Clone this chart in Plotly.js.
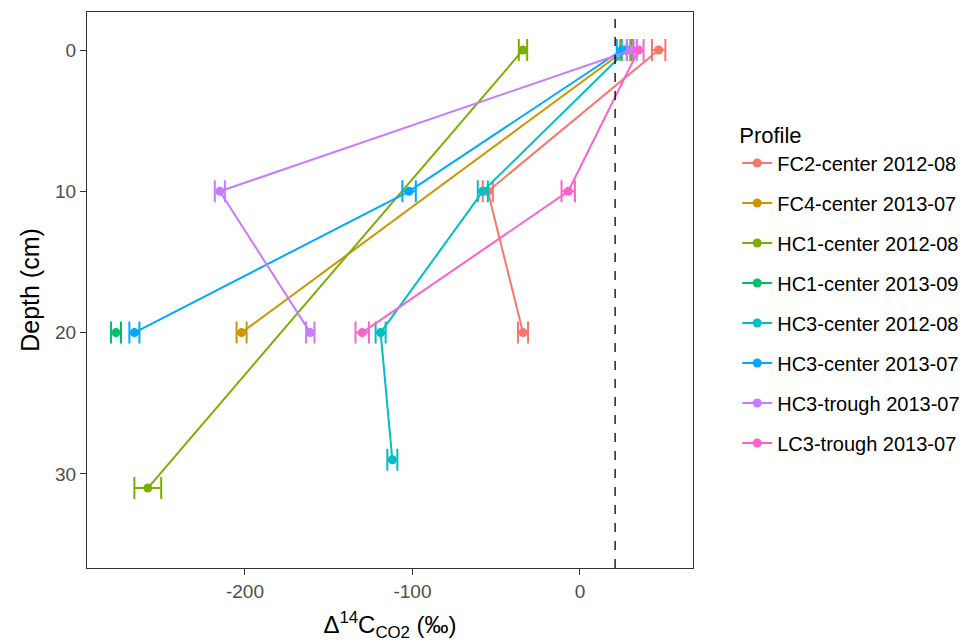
<!DOCTYPE html>
<html>
<head>
<meta charset="utf-8">
<script src="https://cdn.plot.ly/plotly-3.0.1.min.js"></script>
<style>html,body{margin:0;padding:0;background:#fff}#chart{width:967px;height:642px}</style>
</head>
<body>
<div id="chart"></div>
<script>
// Profiles (legend order)
const profiles = ["FC2-center 2012-08","FC4-center 2013-07","HC1-center 2012-08","HC1-center 2013-09","HC3-center 2012-08","HC3-center 2013-07","HC3-trough 2013-07","LC3-trough 2013-07"];
const colors = ["#F8766D","#CD9600","#7CAE00","#00BE67","#00BFC4","#00A9FF","#C77CFF","#FF61CC"];

// Depth (cm) per profile
const depthFC2 = [0, 10, 20];
const depthFC4 = [0, 20];
const depthHC1a = [0, 31];
const depthHC1b = [20];
const depthHC3a = [0, 10, 20, 29];
const depthHC3b = [0, 10, 20];
const depthHC3t = [0, 10, 20];
const depthLC3t = [0, 10, 20];

// Δ14C-CO2 (‰) per profile
const d14FC2 = [47, -55, -34];
const d14FC4 = [27, -202];
const d14HC1a = [-34, -258];
const d14HC1b = [-277];
const d14HC3a = [28, -58, -119, -112];
const d14HC3b = [25, -102, -266];
const d14HC3t = [31, -215, -161];
const d14LC3t = [35, -7, -130];

// Error (±‰)
const errFC2 = [4, 3, 3];
const errFC4 = [3, 3];
const errHC1a = [2.5, 8];
const errHC1b = [3];
const errHC3a = [3, 3, 3, 3];
const errHC3b = [3, 4, 3];
const errHC3t = [3, 3, 2.5];
const errLC3t = [3, 4, 4];

// Reference (atmospheric) value
const refValue = 21;

const depths = [depthFC2, depthFC4, depthHC1a, depthHC1b, depthHC3a, depthHC3b, depthHC3t, depthLC3t];
const values = [d14FC2, d14FC4, d14HC1a, d14HC1b, d14HC3a, d14HC3b, d14HC3t, d14LC3t];
const errs = [errFC2, errFC4, errHC1a, errHC1b, errHC3a, errHC3b, errHC3t, errLC3t];

const traces = profiles.map((name, i) => ({
  type: 'scatter',
  mode: 'lines+markers',
  name: name,
  legendgroup: 'g' + i,
  x: values[i],
  y: depths[i],
  line: {color: colors[i], width: 2},
  marker: {color: colors[i], size: 9},
  error_x: {type: 'data', array: errs[i], visible: true, color: colors[i], thickness: 2, width: 11},
  cliponaxis: false
}));

const layout = {
  width: 967, height: 642,
  margin: {l: 87, r: 274, t: 12, b: 74, autoexpand: false},
  paper_bgcolor: '#ffffff',
  plot_bgcolor: '#ffffff',
  font: {family: 'Liberation Sans, Arial, sans-serif', color: '#000'},
  xaxis: {
    range: [-294.3, 67.5],
    tickvals: [-200, -100, 0],
    ticktext: ['-200', '-100', '0'],
    showgrid: false, zeroline: false,
    showline: true, mirror: true, linecolor: '#333', linewidth: 1,
    ticks: 'outside', ticklen: 6, tickcolor: '#333', tickwidth: 1,
    tickfont: {size: 19, color: '#4d4d4d'},
    title: {text: 'Δ<sup>14</sup>C<sub>CO2</sub> (‰)', font: {size: 24, color: '#000'}, standoff: 16}
  },
  yaxis: {
    range: [36.66, -2.69],
    tickvals: [0, 10, 20, 30],
    ticktext: ['0', '10', '20', '30'],
    showgrid: false, zeroline: false,
    showline: true, mirror: true, linecolor: '#333', linewidth: 1,
    ticks: 'outside', ticklen: 6, tickcolor: '#333', tickwidth: 1,
    tickfont: {size: 19, color: '#4d4d4d'},
    title: {text: 'Depth (cm)', font: {size: 25, color: '#000'}, standoff: 8}
  },
  shapes: [{
    type: 'line', xref: 'x', yref: 'paper',
    x0: refValue, x1: refValue, y0: 0, y1: 1,
    line: {color: '#000', width: 1.3, dash: 'dash'}
  }],
  showlegend: true,
  legend: {
    x: 1.073, xanchor: 'left', y: 0.815, yanchor: 'top',
    title: {text: 'Profile', font: {size: 22, color: '#000'}},
    font: {size: 20, color: '#000'},
    tracegroupgap: 11,
    itemwidth: 30,
    bgcolor: 'rgba(0,0,0,0)'
  }
};

Plotly.newPlot('chart', traces, layout, {displayModeBar: false, staticPlot: true});
</script>
</body>
</html>
